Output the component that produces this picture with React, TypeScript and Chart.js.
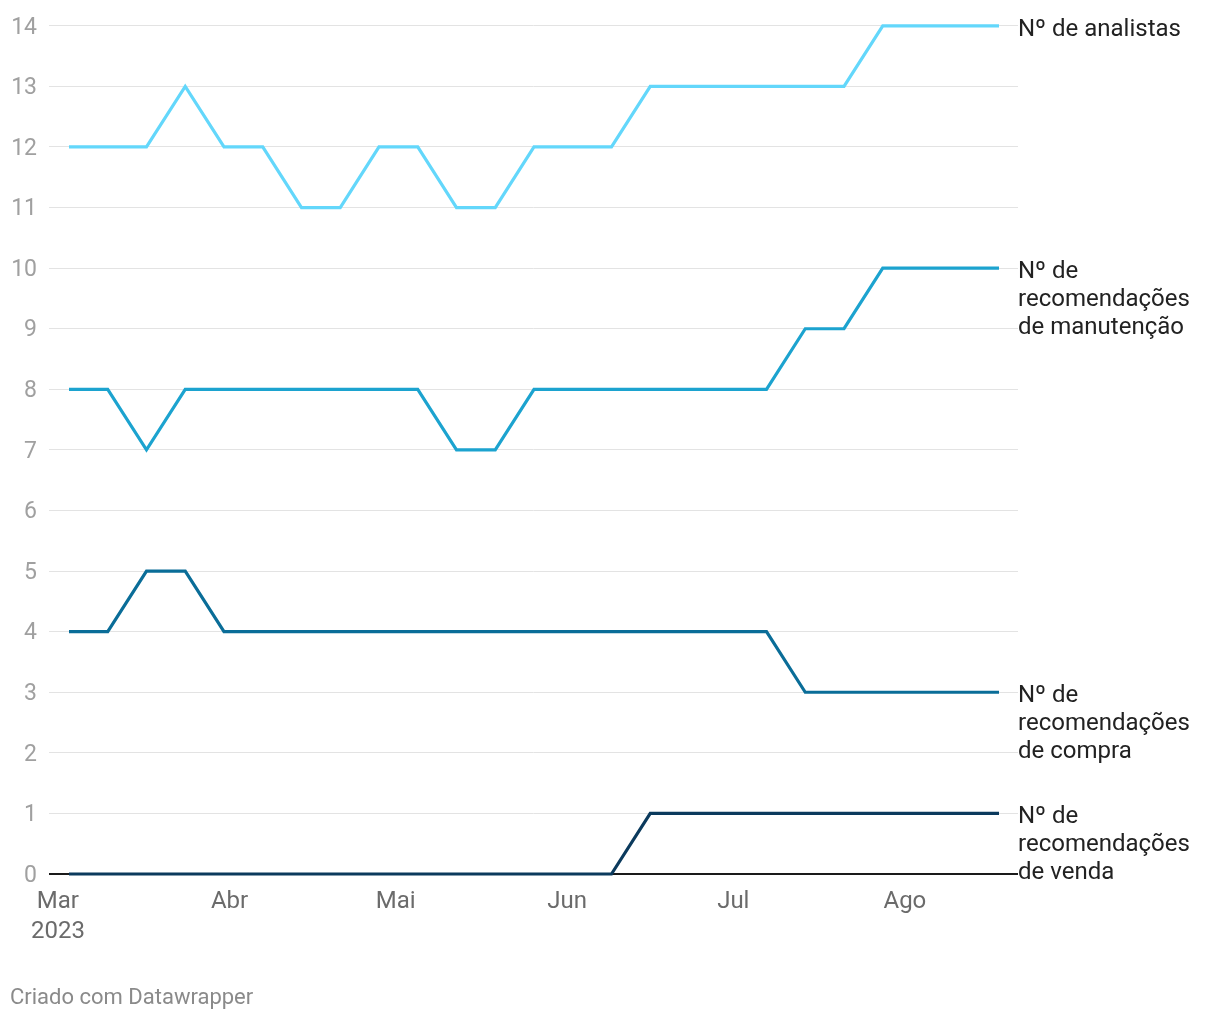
import React, { useEffect, useRef } from "react";
import { Chart, registerables } from "chart.js";

Chart.register(...registerables);

const weekDates = [
  "2023-03-03", "2023-03-10", "2023-03-17", "2023-03-24", "2023-03-31",
  "2023-04-07", "2023-04-14", "2023-04-21", "2023-04-28",
  "2023-05-05", "2023-05-12", "2023-05-19", "2023-05-26",
  "2023-06-02", "2023-06-09", "2023-06-16", "2023-06-23", "2023-06-30",
  "2023-07-07", "2023-07-14", "2023-07-21", "2023-07-28",
  "2023-08-04", "2023-08-11", "2023-08-18",
];

const analistas = [12, 12, 12, 13, 12, 12, 11, 11, 12, 12, 11, 11, 12, 12, 12, 13, 13, 13, 13, 13, 13, 14, 14, 14, 14];
const manutencao = [8, 8, 7, 8, 8, 8, 8, 8, 8, 8, 7, 7, 8, 8, 8, 8, 8, 8, 8, 9, 9, 10, 10, 10, 10];
const compra = [4, 4, 5, 5, 4, 4, 4, 4, 4, 4, 4, 4, 4, 4, 4, 4, 4, 4, 4, 3, 3, 3, 3, 3, 3];
const venda = [0, 0, 0, 0, 0, 0, 0, 0, 0, 0, 0, 0, 0, 0, 0, 1, 1, 1, 1, 1, 1, 1, 1, 1, 1];

const seriesLabels = [
  ["Nº de analistas"],
  ["Nº de", "recomendações", "de manutenção"],
  ["Nº de", "recomendações", "de compra"],
  ["Nº de", "recomendações", "de venda"],
];
const seriesColors = ["#63d7fb", "#1ca3cf", "#0a6d98", "#0b3a5d"];

const monthTickDates = ["2023-03-01", "2023-04-01", "2023-05-01", "2023-06-01", "2023-07-01", "2023-08-01"];
const monthTickLabels: (string | string[])[] = [["Mar", "2023"], "Abr", "Mai", "Jun", "Jul", "Ago"];

const yTicks = [0, 1, 2, 3, 4, 5, 6, 7, 8, 9, 10, 11, 12, 13, 14];

const ORIGIN = Date.UTC(2023, 2, 1);
const dayOf = (s: string) => {
  const [y, m, d] = s.split("-").map(Number);
  return (Date.UTC(y, m - 1, d) - ORIGIN) / 86400000;
};

export default function App() {
  const ref = useRef<HTMLCanvasElement | null>(null);

  useEffect(() => {
    document.body.style.margin = "0";
    const canvas = ref.current;
    if (!canvas) return;
    Chart.defaults.font.family = "Roboto";

    const allSeries = [analistas, manutencao, compra, venda];
    const datasets = allSeries.map((vals, i) => ({
      label: seriesLabels[i].join(" "),
      data: vals.map((v, j) => ({ x: dayOf(weekDates[j]), y: v })),
      borderColor: seriesColors[i],
      backgroundColor: seriesColors[i],
      borderWidth: 3.2,
      pointRadius: 0,
      tension: 0,
      clip: false as any,
      order: 3 - i,
    }));

    const endLabels = {
      id: "endLabels",
      afterDatasetsDraw(chart: any) {
        const ctx = chart.ctx;
        const area = chart.chartArea;
        ctx.save();
        ctx.font = "24px Roboto";
        ctx.fillStyle = "#222222";
        ctx.textAlign = "left";
        ctx.textBaseline = "alphabetic";
        allSeries.forEach((vals, i) => {
          const y = chart.scales.y.getPixelForValue(vals[vals.length - 1]);
          seriesLabels[i].forEach((line, k) => {
            ctx.fillText(line, area.right, y + 10 + k * 28);
          });
        });
        ctx.restore();
      },
    };

    const chart = new Chart(canvas, {
      type: "line",
      data: { datasets: datasets as any },
      options: {
        animation: false,
        responsive: false,
        maintainAspectRatio: false,
        layout: { padding: { top: 24, right: 202, bottom: 0, left: 0 } },
        plugins: { legend: { display: false }, tooltip: { enabled: false } },
        scales: {
          x: {
            type: "linear",
            min: -1.61,
            max: 173.43,
            grid: { display: false, drawTicks: false },
            border: { display: false },
            afterBuildTicks: (scale: any) => {
              scale.ticks = monthTickDates.map((d) => ({ value: dayOf(d) }));
            },
            afterFit: (scale: any) => {
              scale.height = 146;
            },
            ticks: {
              autoSkip: false,
              maxRotation: 0,
              padding: 13,
              color: "#6b6b6b",
              font: { size: 24, family: "Roboto", lineHeight: 1.25 },
              callback: (value: any) => {
                const idx = monthTickDates.findIndex((d) => dayOf(d) === value);
                return idx >= 0 ? monthTickLabels[idx] : "";
              },
            },
          },
          y: {
            type: "linear",
            min: 0,
            max: 14,
            afterBuildTicks: (scale: any) => {
              scale.ticks = yTicks.map((v) => ({ value: v }));
            },
            afterFit: (scale: any) => {
              scale.width = 49;
            },
            border: { display: false },
            grid: {
              drawTicks: false,
              color: (c: any) => (c.tick && c.tick.value === 0 ? "#1a1a1a" : "#e3e3e3"),
              lineWidth: (c: any) => (c.tick && c.tick.value === 0 ? 2 : 1),
            },
            ticks: {
              padding: 12,
              labelOffset: 2,
              color: "#a0a0a0",
              font: { size: 23, family: "Roboto" },
              callback: (v: any) => String(v),
            },
          },
        },
      },
      plugins: [endLabels],
    });
    return () => chart.destroy();
  }, []);

  return (
    <div style={{ position: "relative", width: 1220, height: 1020, background: "#fff" }}>
      <canvas ref={ref} width={1220} height={1020} style={{ position: "absolute", left: 0, top: 0 }} />
      <div
        style={{
          position: "absolute",
          left: 10,
          top: 986,
          fontFamily: "Roboto",
          fontSize: 22,
          color: "#8a8a8a",
          lineHeight: "22px",
          whiteSpace: "nowrap",
        }}
      >
        Criado com Datawrapper
      </div>
    </div>
  );
}
